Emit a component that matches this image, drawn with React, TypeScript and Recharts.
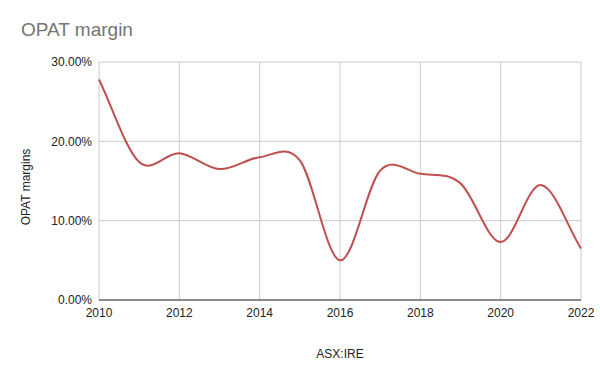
import React from 'react';
import { LineChart, Line, XAxis, YAxis, CartesianGrid } from 'recharts';

const years = [2010, 2011, 2012, 2013, 2014, 2015, 2016, 2017, 2018, 2019, 2020, 2021, 2022];
const margins = [0.278, 0.174, 0.185, 0.165, 0.18, 0.176, 0.05, 0.163, 0.159, 0.147, 0.073, 0.145, 0.065];
const xTicks = [2010, 2012, 2014, 2016, 2018, 2020, 2022];
const yTicks = [0, 0.1, 0.2, 0.3];

const data = years.map((y, i) => ({ year: y, margin: margins[i] }));

// Catmull-Rom style smoothing curve factory
function smoothCurve(context: any) {
  let pts: [number, number][] = [];
  return {
    areaStart() {},
    areaEnd() {},
    lineStart() { pts = []; },
    point(x: number, y: number) { pts.push([+x, +y]); },
    lineEnd() {
      const n = pts.length;
      if (n === 0) return;
      context.moveTo(pts[0][0], pts[0][1]);
      for (let i = 0; i < n - 1; i++) {
        const p0 = pts[Math.max(0, i - 1)];
        const p1 = pts[i];
        const p2 = pts[i + 1];
        const p3 = pts[Math.min(n - 1, i + 2)];
        const dx = p2[0] - p1[0];
        const m1 = i === 0 ? (p2[1] - p1[1]) / dx : (p2[1] - p0[1]) / (p2[0] - p0[0]);
        const m2 = i === n - 2 ? (p2[1] - p1[1]) / dx : (p3[1] - p1[1]) / (p3[0] - p1[0]);
        context.bezierCurveTo(
          p1[0] + dx / 3, p1[1] + (m1 * dx) / 3,
          p2[0] - dx / 3, p2[1] - (m2 * dx) / 3,
          p2[0], p2[1]
        );
      }
    },
  };
}

const fmt = (v: number) => (v * 100).toFixed(2) + '%';
const font = 'Arial, "Liberation Sans", sans-serif';

export default function App() {
  return (
    <div style={{ position: 'absolute', left: 0, top: 0, width: 600, height: 371, background: '#fff', fontFamily: font }}>
      <LineChart width={600} height={371} data={data} margin={{ top: 62, right: 19, bottom: 41, left: 0 }}>
        <CartesianGrid stroke="#cccccc" strokeWidth={1} />
        <XAxis
          dataKey="year"
          type="number"
          domain={[2010, 2022]}
          ticks={xTicks}
          height={30}
          tickLine={false}
          tickSize={0}
          tickMargin={8}
          axisLine={{ stroke: '#333333' }}
          tick={{ fill: '#222222', fontSize: 12, fontFamily: font }}
        />
        <YAxis
          type="number"
          domain={[0, 0.3]}
          ticks={yTicks}
          width={99}
          tickFormatter={fmt}
          tickLine={false}
          tickSize={0}
          tickMargin={7}
          axisLine={false}
          tick={{ fill: '#222222', fontSize: 12, fontFamily: font }}
        />
        <Line
          dataKey="margin"
          type={smoothCurve as any}
          stroke="#c0504d"
          strokeWidth={2}
          dot={false}
          activeDot={false}
          isAnimationActive={false}
        />
      </LineChart>
      <svg width={600} height={371} style={{ position: 'absolute', left: 0, top: 0, pointerEvents: 'none' }}>
        <text x={21} y={36} fontSize={19} fill="#757575" fontFamily={font}>OPAT margin</text>
        <text x={340} y={358} fontSize={12} fill="#222222" textAnchor="middle" fontFamily={font}>ASX:IRE</text>
        <text x={29.5} y={187} fontSize={12} fill="#222222" textAnchor="middle" fontFamily={font} transform="rotate(-90 29.5 187)">OPAT margins</text>
      </svg>
    </div>
  );
}
